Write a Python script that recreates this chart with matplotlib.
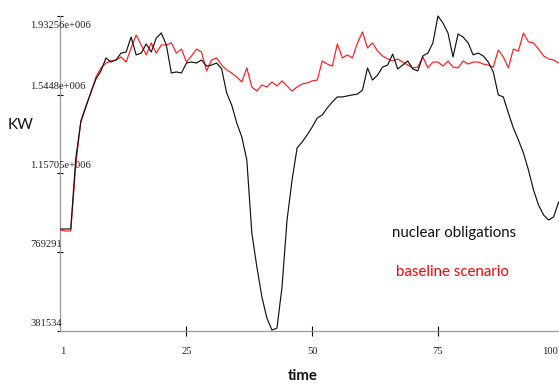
import matplotlib
matplotlib.use("Agg")
import matplotlib.pyplot as plt

# ---- data (KW), 100 time steps labelled 1..100 ----
time_index = list(range(100))
nuclear_obligations = [
    884000, 884000, 884000, 1233000, 1411000, 1484000, 1558000, 1622000, 1662000, 1726000,
    1706000, 1716000, 1750000, 1755000, 1829000, 1741000, 1750000, 1795000, 1755000, 1824000,
    1849000, 1790000, 1652000, 1657000, 1652000, 1701000, 1706000, 1701000, 1716000, 1686000,
    1691000, 1701000, 1672000, 1553000, 1494000, 1406000, 1337000, 1224000, 864000, 697000,
    549000, 445000, 386000, 396000, 598000, 928000, 1125000, 1283000, 1312000, 1347000,
    1386000, 1430000, 1445000, 1480000, 1509000, 1534000, 1534000, 1539000, 1544000, 1548000,
    1568000, 1677000, 1617000, 1642000, 1681000, 1691000, 1745000, 1672000, 1691000, 1711000,
    1672000, 1662000, 1736000, 1750000, 1800000, 1932560, 1898000, 1849000, 1731000, 1844000,
    1829000, 1800000, 1741000, 1750000, 1736000, 1706000, 1657000, 1544000, 1534000, 1455000,
    1381000, 1322000, 1258000, 1174000, 1076000, 1002000, 953000, 928000, 943000, 1017000,
]
baseline_scenario = [
    879000, 874000, 874000, 1199000, 1416000, 1489000, 1553000, 1632000, 1677000, 1701000,
    1711000, 1716000, 1731000, 1706000, 1775000, 1839000, 1790000, 1741000, 1800000, 1750000,
    1790000, 1790000, 1800000, 1750000, 1770000, 1706000, 1736000, 1770000, 1755000, 1662000,
    1716000, 1726000, 1691000, 1667000, 1652000, 1632000, 1608000, 1677000, 1583000, 1563000,
    1593000, 1583000, 1608000, 1588000, 1613000, 1588000, 1563000, 1583000, 1598000, 1603000,
    1613000, 1617000, 1711000, 1696000, 1686000, 1795000, 1726000, 1741000, 1726000, 1800000,
    1854000, 1775000, 1800000, 1760000, 1736000, 1721000, 1711000, 1721000, 1706000, 1691000,
    1677000, 1681000, 1731000, 1677000, 1706000, 1706000, 1686000, 1711000, 1681000, 1677000,
    1711000, 1696000, 1706000, 1706000, 1696000, 1691000, 1681000, 1765000, 1731000, 1677000,
    1770000, 1760000, 1849000, 1805000, 1800000, 1770000, 1736000, 1721000, 1716000, 1701000,
]
x_tick_pos = [25, 50, 75]
x_labels = [(0.35, "1"), (25, "25"), (50, "50"), (75, "75")]
y_ticks = [381534, 769291, 1157048, 1544805, 1932560]
y_labels = ["381534", "769291", "1.15705e+006", "1.5448e+006", "1.93256e+006"]

W, H = 559, 385
fig = plt.figure(figsize=(W / 100, H / 100), dpi=100)
fig.patch.set_facecolor("white")
ax = fig.add_axes([60 / W, 54 / H, 499 / W, 315 / H])
ax.set_facecolor("white")

ax.plot(time_index, baseline_scenario, color="#ff1a1a", lw=0.85, clip_on=False, zorder=3)
ax.plot(time_index, nuclear_obligations, color="#111111", lw=0.85, clip_on=False, zorder=4)

ax.set_xlim(-0.14, 99.07)
ax.set_ylim(y_ticks[0], y_ticks[-1])

for s in ("top", "right"):
    ax.spines[s].set_visible(False)
for s in ("left", "bottom"):
    ax.spines[s].set_color("#9a9a9a")
    ax.spines[s].set_linewidth(0.9)

ax.set_xticks(x_tick_pos)
ax.set_yticks(y_ticks)
ax.tick_params(axis="x", direction="inout", length=6.5, width=0.8, color="black",
               labelbottom=False)
ax.tick_params(axis="y", direction="inout", length=5, width=0.8, color="black",
               labelleft=False)

serif = "Liberation Serif"
for v, lab in zip(y_ticks, y_labels):
    dy = -10 if v == y_ticks[-1] else 8
    ax.annotate(lab, xy=(0, v), xycoords=("axes fraction", "data"),
                xytext=(-30, dy), textcoords="offset pixels",
                ha="left", va="center", fontsize=7.6, family=serif, color="#222222",
                annotation_clip=False)

for xv, lab in x_labels:
    ax.annotate(lab, xy=(xv, 0), xycoords=("data", "axes fraction"),
                xytext=(0, -21), textcoords="offset pixels",
                ha="center", va="center", fontsize=7.6, family=serif, color="#222222",
                annotation_clip=False)
ax.annotate("100", xy=(1, 0), xycoords="axes fraction", xytext=(-1, -21),
            textcoords="offset pixels", ha="right", va="center", fontsize=7.6,
            family=serif, color="#222222", annotation_clip=False)

sans = ["Lato", "DejaVu Sans"]
fig.text(8 / W, 1 - 129 / H, "KW", fontsize=11, family=sans, color="#111111",
         ha="left", va="baseline")
fig.text(303 / W, 1 - 380 / H, "time", fontsize=10.8, family=sans, weight="bold",
         color="#111111", ha="center", va="baseline")
fig.text(392 / W, 1 - 237 / H, "nuclear obligations", fontsize=10.8, family=sans,
         color="#111111", ha="left", va="baseline")
fig.text(396 / W, 1 - 276 / H, "baseline scenario", fontsize=10.8, family=sans,
         color="#ff0000", ha="left", va="baseline")

fig.savefig("out.png", dpi=100)
